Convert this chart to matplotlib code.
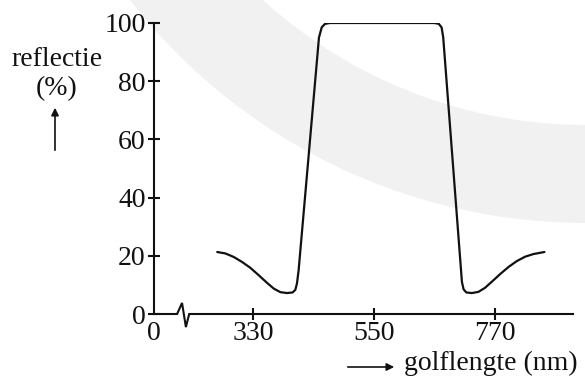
import matplotlib
matplotlib.use("Agg")
import matplotlib.pyplot as plt
from matplotlib.patches import Wedge
from matplotlib.transforms import IdentityTransform

# ---- data ----
wavelength_nm = [265, 280, 295, 310, 325, 340, 355, 368, 380, 392, 402, 407, 410, 413,
                 450, 455, 461, 470, 560, 660, 668, 673, 676,
                 710, 713, 718, 728, 740, 752, 765, 780, 795, 810, 825, 840, 860]
reflectance_pct = [21.3, 20.8, 19.6, 17.9, 15.9, 13.4, 10.8, 8.7, 7.5, 7.2, 7.4, 8.3, 10.5, 15,
                   95, 98.5, 99.7, 100, 100, 100, 99.7, 98.5, 95,
                   11, 8.5, 7.4, 7.2, 7.6, 9.0, 11.2, 13.8, 16.2, 18.2, 19.7, 20.6, 21.3]
x_ticks = [150, 330, 550, 770]
x_ticklabels = ["0", "330", "550", "770"]
y_ticks = [0, 20, 40, 60, 80, 100]
x_limits = (150, 912)
y_limits = (0, 100)
ylabel_lines = ["reflectie", "(%)"]
xlabel_text = "golflengte (nm)"

W, H = 585, 380
fig = plt.figure(figsize=(W / 100, H / 100), dpi=100)
fig.patch.set_facecolor("white")

# light grey watermark arc in the background
fig.patches.append(Wedge((586, H + 355), 578, 180, 275, width=98,
                         transform=IdentityTransform(), facecolor="#f1f1f1",
                         edgecolor="none", zorder=-1))

ax = fig.add_axes([154 / W, 1 - 314 / H, (573 - 154) / W, (314 - 23) / H])
ax.patch.set_visible(False)
ax.set_xlim(*x_limits)
ax.set_ylim(*y_limits)

ax.plot(wavelength_nm, reflectance_pct, color="#111111", lw=1.6,
        solid_joinstyle="round", solid_capstyle="round", zorder=3)

serif = "Liberation Serif"
fs = 20
for s in ["top", "right", "bottom"]:
    ax.spines[s].set_visible(False)
ax.spines["left"].set_linewidth(1.5)
ax.spines["left"].set_color("#111111")

# x axis line with break symbol
brk = [(150, 0), (192, 0), (201, 3.8), (208, -4.5), (214, 0), (912, 0)]
ax.plot([p[0] for p in brk], [p[1] for p in brk], color="#111111", lw=1.5,
        clip_on=False, zorder=2, solid_joinstyle="miter")

ax.set_yticks(y_ticks)
ax.set_yticklabels([str(v) for v in y_ticks], fontfamily=serif, fontsize=fs)
ax.set_xticks(x_ticks)
ax.set_xticklabels(x_ticklabels, fontfamily=serif, fontsize=fs)
ax.tick_params(axis="both", direction="inout", length=8, width=1.5, color="#111111",
               labelcolor="#111111")
ax.tick_params(axis="y", pad=2)
ax.tick_params(axis="x", pad=1)
ax.xaxis.get_major_ticks()[0].tick1line.set_visible(False)

# axis titles with arrows
fig.text(57, H - 66, ylabel_lines[0], transform=IdentityTransform(), ha="center",
         va="baseline", fontfamily=serif, fontsize=fs, color="#111111")
fig.text(57, H - 95, ylabel_lines[1], transform=IdentityTransform(), ha="center",
         va="baseline", fontfamily=serif, fontsize=fs, color="#111111")
ax.annotate("", xy=(55, H - 105), xytext=(55, H - 153), xycoords="figure pixels",
            textcoords="figure pixels",
            arrowprops=dict(arrowstyle="-|>", lw=1.2, color="#111111", mutation_scale=11))
fig.text(404, H - 370, xlabel_text, transform=IdentityTransform(), ha="left",
         va="baseline", fontfamily=serif, fontsize=fs, color="#111111")
ax.annotate("", xy=(397, H - 367), xytext=(345, H - 367), xycoords="figure pixels",
            textcoords="figure pixels",
            arrowprops=dict(arrowstyle="-|>", lw=1.2, color="#111111", mutation_scale=11))

fig.savefig("out.png", dpi=100)
